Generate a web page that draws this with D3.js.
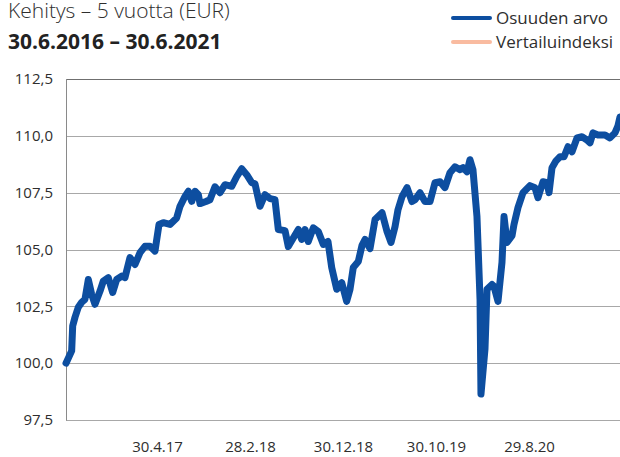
<!DOCTYPE html>
<html><head><meta charset="utf-8">
<script src="https://cdn.jsdelivr.net/npm/d3@7"></script>
<style>
html,body{margin:0;padding:0;background:#fff;}
svg{display:block;font-family:"Open Sans",sans-serif;}
</style></head>
<body><svg id="c" width="620" height="457"></svg>
<script>
// months since 30.6.2016
const months = [0,0.61,0.72,0.97,1.32,1.69,2.04,2.40,2.76,3.12,3.66,4.01,4.55,5.02,5.45,5.99,6.34,6.88,7.42,7.96,8.49,9.03,9.57,10.0,10.46,11.18,11.90,12.26,12.80,13.15,13.52,13.87,14.23,14.41,15.05,15.48,16.02,16.56,17.10,17.82,18.35,18.89,19.43,19.97,20.32,20.86,21.40,21.94,22.47,22.83,23.55,23.90,24.44,24.98,25.34,25.70,26.05,26.59,27.13,27.67,28.17,28.57,29.11,29.65,30.18,30.54,30.89,31.43,31.83,32.15,32.69,33.23,33.98,34.52,34.95,35.38,35.70,36.13,36.67,37.20,37.53,38.06,38.60,39.14,39.68,40.22,40.75,41.29,41.83,42.37,42.69,43.12,43.44,43.76,44.19,44.52,44.62,45.05,45.27,45.81,46.02,46.45,46.88,47.10,47.42,47.96,48.17,48.60,49.14,49.89,50.43,50.75,51.29,51.72,51.94,52.26,52.69,53.12,53.55,53.98,54.41,54.95,55.48,56.02,56.34,56.67,57.20,57.96,58.49,59.03,59.35,59.57];
const osuudenArvo = [100.0,100.54,101.64,102.02,102.46,102.68,102.81,103.68,103.03,102.59,103.17,103.61,103.76,103.11,103.68,103.83,103.76,104.64,104.34,104.86,105.14,105.14,104.93,106.10,106.18,106.10,106.39,106.90,107.34,107.56,107.12,107.56,107.41,107.02,107.11,107.19,107.76,107.50,107.85,107.78,108.20,108.55,108.29,107.94,107.89,106.90,107.41,107.24,107.19,105.88,105.83,105.13,105.51,105.88,105.44,105.88,105.35,105.95,105.79,105.22,105.35,104.21,103.25,103.54,102.72,103.25,104.21,104.47,105.18,105.44,105.04,106.32,106.62,105.79,105.31,106.01,106.75,107.32,107.72,107.11,107.19,107.50,107.11,107.11,107.94,107.98,107.72,108.38,108.64,108.51,108.60,108.42,108.95,108.51,106.45,102.81,98.64,100.61,103.25,103.46,103.38,102.72,104.43,106.45,105.31,105.61,106.10,106.84,107.50,107.81,107.72,107.28,107.98,107.94,107.50,108.60,108.90,109.08,109.08,109.52,109.30,109.91,109.96,109.82,109.69,110.13,110.04,110.04,109.91,110.13,110.44,110.83];
const yTicks = [97.5,100,102.5,105,107.5,110,112.5];
const xTickMonths = [10,20,30,40,50];
const xTickLabels = ["30.4.17","28.2.18","30.12.18","30.10.19","29.8.20"];
const legendLabels = ["Osuuden arvo","Vertailuindeksi"];
const legendColors = ["#0d4ea0","#f9bba0"];
const titleText = "Kehitys – 5 vuotta (EUR)";
const subtitleText = "30.6.2016 – 30.6.2021";

const svg = d3.select("#c");
const x = d3.scaleLinear().domain([0,60]).range([66,624]);
const y = d3.scaleLinear().domain([97.5,112.5]).range([420,79]);
const textColor = "#2e2e2e";

// grid
svg.append("g").selectAll("line").data(yTicks).join("line")
  .attr("x1",66).attr("x2",620)
  .attr("y1",d=>Math.round(y(d))+0.5).attr("y2",d=>Math.round(y(d))+0.5)
  .attr("stroke",d=>d===112.5?"#6f6f6f":"#a8a8a8").attr("stroke-width",1);
// left axis line
svg.append("line").attr("x1",66.5).attr("x2",66.5).attr("y1",y(112.5)).attr("y2",y(97.5)+0.5)
  .attr("stroke","#8a8a8a");

// y labels
const yAxis = d3.axisLeft(y).tickValues(yTicks).tickSize(0).tickPadding(0)
  .tickFormat(d=>d3.format(".1f")(d).replace(".",","));
const gy = svg.append("g").attr("transform","translate(53,0)").call(yAxis);
gy.select(".domain").remove();
gy.selectAll("text").attr("font-size",15).attr("fill",textColor).attr("font-family","Open Sans");

// x labels
const xAxis = d3.axisBottom(x).tickValues(xTickMonths).tickSize(0).tickPadding(0)
  .tickFormat((d,i)=>xTickLabels[i]);
const gx = svg.append("g").attr("transform","translate(-2,441)").call(xAxis);
gx.select(".domain").remove();
gx.selectAll("text").attr("font-size",15).attr("fill",textColor).attr("font-family","Open Sans");

// line
const data = months.map((m,i)=>({m,v:osuudenArvo[i]}));
svg.append("path").datum(data)
  .attr("fill","none").attr("stroke",legendColors[0]).attr("stroke-width",7)
  .attr("stroke-linejoin","round").attr("stroke-linecap","round")
  .attr("d",d3.line().x(d=>x(d.m)).y(d=>y(d.v)));

// title
svg.append("text").attr("x",8).attr("y",18).attr("font-size",21).attr("font-weight",300)
  .attr("fill",textColor).text(titleText);
svg.append("text").attr("x",8).attr("y",49).attr("font-size",21).attr("font-weight",700)
  .attr("fill","#222").text(subtitleText);

// legend
const lg = svg.append("g");
legendLabels.forEach((lab,i)=>{
  const yy = 18 + i*24;
  lg.append("line").attr("x1",453).attr("x2",490).attr("y1",yy).attr("y2",yy)
    .attr("stroke",legendColors[i]).attr("stroke-width",4).attr("stroke-linecap","round");
  lg.append("text").attr("x",496).attr("y",yy+6).attr("font-size",17)
    .attr("fill",textColor).text(lab);
});
</script></body></html>
